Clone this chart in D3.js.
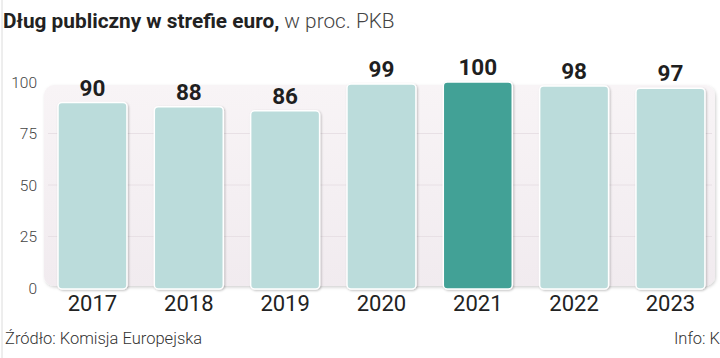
<!DOCTYPE html>
<html><head><meta charset="utf-8">
<script src="https://cdn.jsdelivr.net/npm/d3@7"></script>
<style>
html,body{margin:0;padding:0;background:#fff;}
svg{display:block;}
</style></head>
<body>
<svg id="c" width="720" height="358"></svg>
<script>
const years = ["2017","2018","2019","2020","2021","2022","2023"];
const debt = [90, 88, 86, 99, 100, 98, 97];
const highlightYear = "2021";
const yTicks = [0, 25, 50, 75, 100];
const titleBold = "Dług publiczny w strefie euro,";
const titleLight = " w proc. PKB";
const sourceText = "Źródło: Komisja Europejska";
const infoText = "Info: K";

const svg = d3.select("#c");
const defs = svg.append("defs");
const f = defs.append("filter").attr("id","sh").attr("x","-5%").attr("y","-5%").attr("width","110%").attr("height","115%");
f.append("feDropShadow").attr("dx",1).attr("dy",1.5).attr("stdDeviation",1.5).attr("flood-color","#000").attr("flood-opacity",0.18);
const f2 = defs.append("filter").attr("id","sh2").attr("x","-5%").attr("y","-5%").attr("width","110%").attr("height","115%");
f2.append("feDropShadow").attr("dx",1).attr("dy",1).attr("stdDeviation",0.8).attr("flood-color","#000").attr("flood-opacity",0.25);
const g = defs.append("linearGradient").attr("id","bg").attr("x1",0).attr("y1",0).attr("x2",0).attr("y2",1);
g.append("stop").attr("offset","0%").attr("stop-color","#f8f4f6");
g.append("stop").attr("offset","100%").attr("stop-color","#f1ebef");

// left border line
svg.append("line").attr("x1",2).attr("x2",2).attr("y1",0).attr("y2",358).attr("stroke","#dcdcdc").attr("stroke-width",1);

const x = d3.scaleBand().domain(years).range([44.3, 718.6]).paddingInner(0.284).paddingOuter(0.142);
const y = d3.scaleLinear().domain([0, 100]).range([288, 82]);

// panel
svg.append("rect").attr("x",44).attr("y",y(98.5)).attr("width",671).attr("height",y(1)-y(98.5))
  .attr("rx",10).attr("fill","url(#bg)").attr("filter","url(#sh)");

// gridlines
svg.append("g").selectAll("line").data(yTicks.filter(t=>t>0 && t<100)).join("line")
  .attr("x1",48).attr("x2",712).attr("y1",d=>y(d)).attr("y2",d=>y(d))
  .attr("stroke","#e8e0e5").attr("stroke-width",1);

// y axis
const yAxis = d3.axisLeft(y).tickValues(yTicks).tickSize(0).tickPadding(0);
const ya = svg.append("g").attr("transform","translate(37,0)").call(yAxis);
ya.select(".domain").remove();
ya.selectAll("text").attr("font-family","Roboto, sans-serif").attr("font-weight",300)
  .attr("font-size",15.5).attr("fill","#444").attr("dy","0.35em");

// bars
svg.append("g").selectAll("rect").data(years).join("rect")
  .attr("x",d=>x(d)).attr("width",x.bandwidth())
  .attr("y",(d,i)=>y(debt[i])).attr("height",(d,i)=>y(0)-y(debt[i])+1)
  .attr("rx",4)
  .attr("fill",d=>d===highlightYear?"#43a196":"#bbdcdb")
  .attr("stroke","#ffffff").attr("stroke-width",1.5)
  .attr("filter","url(#sh2)");

// value labels
svg.append("g").selectAll("text").data(years).join("text")
  .attr("x",d=>x(d)+x.bandwidth()/2).attr("y",(d,i)=>y(debt[i])-7)
  .attr("text-anchor","middle")
  .attr("font-family","Roboto, sans-serif").attr("font-weight",700)
  .attr("font-size",22.5).attr("fill","#1f1f1f")
  .text((d,i)=>debt[i]);

// x axis
const xAxis = d3.axisBottom(x).tickSize(0).tickPadding(0);
const xa = svg.append("g").attr("transform","translate(0,295)").call(xAxis);
xa.select(".domain").remove();
xa.selectAll("text").attr("font-family","Roboto, sans-serif").attr("font-weight",400)
  .attr("font-size",22).attr("fill","#222").attr("dy","0.71em");

// title
const t = svg.append("text").attr("x",3).attr("y",28).attr("font-family","Roboto, sans-serif").attr("font-size",20.8);
t.append("tspan").attr("font-weight",700).attr("fill","#222").text(titleBold);
t.append("tspan").attr("font-weight",300).attr("fill","#444").text(titleLight);

// footer
svg.append("text").attr("x",5).attr("y",344).attr("font-family","Roboto, sans-serif").attr("font-weight",300)
  .attr("font-size",16.5).attr("fill","#333").text(sourceText);
svg.append("text").attr("x",720).attr("y",344).attr("text-anchor","end").attr("font-family","Roboto, sans-serif").attr("font-weight",300)
  .attr("font-size",16.5).attr("fill","#333").text(infoText);
</script>
</body></html>
